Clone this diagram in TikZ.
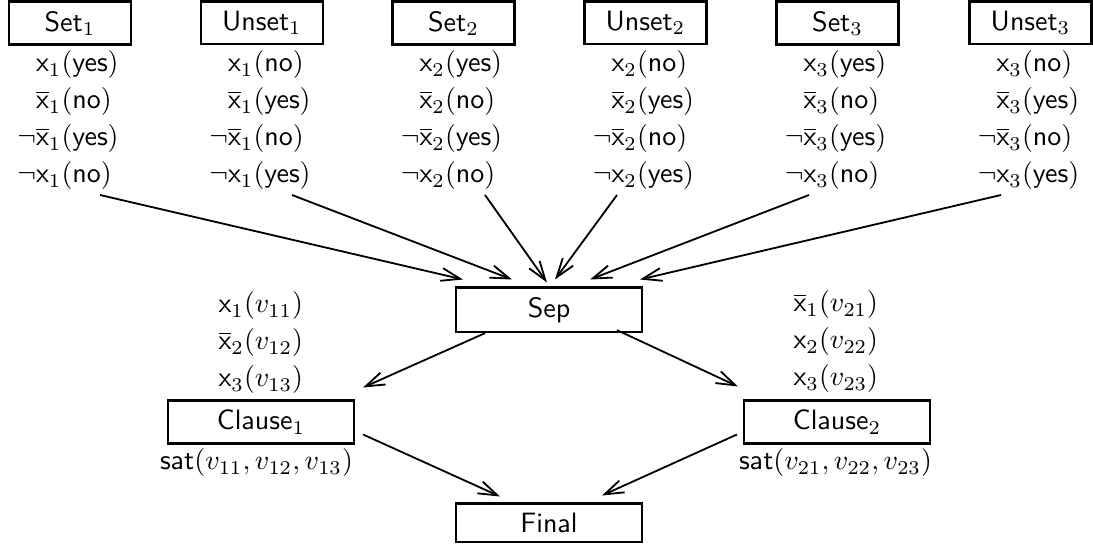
\documentclass[tikz,border=0pt]{standalone}
\usetikzlibrary{calc,arrows.meta}

\newcommand\xv[1]{\mathsf{x}_{#1}}
\newcommand\xb[1]{\overline{\mathsf{x}}_{#1}}

\tikzset{
  box/.style={draw, line width=0.9pt, font=\sffamily, anchor=north, inner sep=0.333em},
  topbox/.style={box, minimum width=43.5pt},
  midbox/.style={box, minimum width=66.3pt},
  lbl/.style={inner sep=0pt, anchor=base west},
  lblc/.style={inner sep=0pt, anchor=base},
  conn/.style={line width=0.65pt, -{Straight Barb[length=6.8pt,width=4.6pt]}},
}

\begin{document}
\begin{tikzpicture}[x=0.35714pt, y=-0.35714pt]
\useasboundingbox (0,0) rectangle (1093,546);

% variable gadgets: Set_i / Unset_i with their literal labels
\foreach \c/\nm/\i/\a/\b/\dx in {70/Set/1/yes/no/30, 262/Unset/1/no/yes/30,
    453.5/Set/2/yes/no/31.5, 645.5/Unset/2/no/yes/-28.5,
    837.5/Set/3/yes/no/-28.5, 1030.5/Unset/3/no/yes/-29.5} {
  \node[topbox] (\nm\i) at (\c,0.5) {\nm$_{\i}$};
  \node[lbl] (\nm\i-a) at ({\c-34.5},72) {$\xv{\i}(\mathsf{\a})$};
  \node[lbl] (\nm\i-b) at ({\c-34.5},109) {$\xb{\i}(\mathsf{\b})$};
  \node[lbl] (\nm\i-c) at ({\c-34.5},146) {\llap{$\neg$}$\xb{\i}(\mathsf{\a})$};
  \node[lbl] (\nm\i-d) at ({\c-34.5},183) {\llap{$\neg$}$\xv{\i}(\mathsf{\b})$};
  \coordinate (\nm\i-out) at ($(\nm\i.north)+(\dx,194.5)$);
}

% separator, clauses and final node
\node[midbox] (Sep) at (549,286.5) {Sep};
\node[midbox] (C1) at (261,399.5) {Clause$_1$};
\node[midbox] (C2) at (837,399.5) {Clause$_2$};
\node[midbox] (Final) at (549,502.5) {Final};

% clause literal labels
\node[lbl] (C1-a) at (218,313) {$\xv1(v_{11})$};
\node[lbl] (C1-b) at (218,350) {$\xb2(v_{12})$};
\node[lbl] (C1-c) at (218,387) {$\xv3(v_{13})$};
\node[lblc] (C1-sat) at (256.5,470) {$\mathsf{sat}(v_{11},v_{12},v_{13})$};

\node[lbl] (C2-a) at (793,312) {$\xb1(v_{21})$};
\node[lbl] (C2-b) at (793,349) {$\xv2(v_{22})$};
\node[lbl] (C2-c) at (793,386) {$\xv3(v_{23})$};
\node[lblc] (C2-sat) at (835.5,470) {$\mathsf{sat}(v_{21},v_{22},v_{23})$};

% gadgets into the separator
\draw[conn] (Set1-out)   -- ($(Sep.north)+(-86,-7)$);
\draw[conn] (Unset1-out) -- ($(Sep.north)+(-37,-7)$);
\draw[conn] (Set2-out)   -- ($(Sep.north)+(-2,-4)$);
\draw[conn] (Unset2-out) -- ($(Sep.north)+(6,-7)$);
\draw[conn] (Set3-out)   -- ($(Sep.north)+(41,-7)$);
\draw[conn] (Unset3-out) -- ($(Sep.north)+(91,-7)$);

% separator to clauses, clauses to final
\draw[conn] ($(Sep.south)+(-64,0)$) -- ($(C1.north east)+(8,-12)$);
\draw[conn] ($(Sep.south)+(68,-3)$) -- ($(C2.north west)+(-5,-13)$);
\draw[conn] ($(C1.north east)+(8,35)$) -- ($(Final.north)+(-49,-6)$);
\draw[conn] ($(C2.north west)+(-6,35)$) -- ($(Final.north)+(53,-7)$);
\end{tikzpicture}
\end{document}
